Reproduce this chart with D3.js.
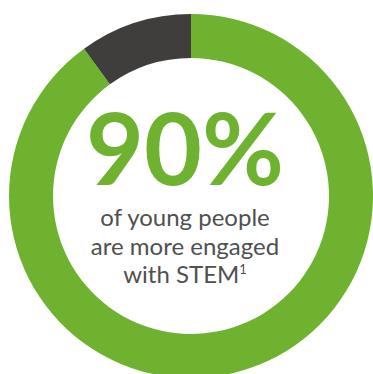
<!DOCTYPE html>
<html>
<head>
<meta charset="utf-8">
<script src="https://cdn.jsdelivr.net/npm/d3@7"></script>
<style>
  body { margin: 0; background: #fff; overflow: hidden; }
</style>
</head>
<body>
<div id="chart"></div>
<script>
const categories = ['More engaged', 'Not more engaged'];
const values = [90, 10];
const headline = '90%';
const captionLines = ['of young people', 'are more engaged', 'with STEM'];

const width = 373;
const height = 374;
const cx = 191, cy = 196;
const outerR = 182, innerR = 138;

const color = d3.scaleOrdinal()
  .domain(categories)
  .range(['#6fb22f', '#403e3d']);

const svg = d3.select('#chart')
  .append('svg')
  .attr('width', width)
  .attr('height', height);

const pie = d3.pie().sort(null).value(d => d.value);
const arc = d3.arc().innerRadius(innerR).outerRadius(outerR);

const slices = pie(categories.map((c, i) => ({ name: c, value: values[i] })));

const g = svg.append('g')
  .attr('transform', `translate(${cx},${cy})`);

g.selectAll('path')
  .data(slices)
  .join('path')
    .attr('d', arc)
    .attr('fill', d => color(d.data.name));

// centre text
const tx = 185 - cx;
g.append('text')
  .attr('x', tx)
  .attr('y', -11)
  .attr('text-anchor', 'middle')
  .attr('font-family', 'Lato, sans-serif')
  .attr('font-weight', 'bold')
  .attr('font-size', '100px')
  .attr('fill', '#6fb22f')
  .text(headline);

const caption = g.append('text')
  .attr('text-anchor', 'middle')
  .attr('font-family', 'Lato, sans-serif')
  .attr('font-size', '24px')
  .attr('fill', '#505050');

captionLines.forEach((line, i) => {
  const t = caption.append('tspan')
    .attr('x', tx)
    .attr('y', 30 + i * 28.5)
    .text(line);
  if (i === captionLines.length - 1) {
    t.append('tspan')
      .attr('font-size', '13px')
      .attr('dy', '-9')
      .text('1');
  }
});
</script>
</body>
</html>
